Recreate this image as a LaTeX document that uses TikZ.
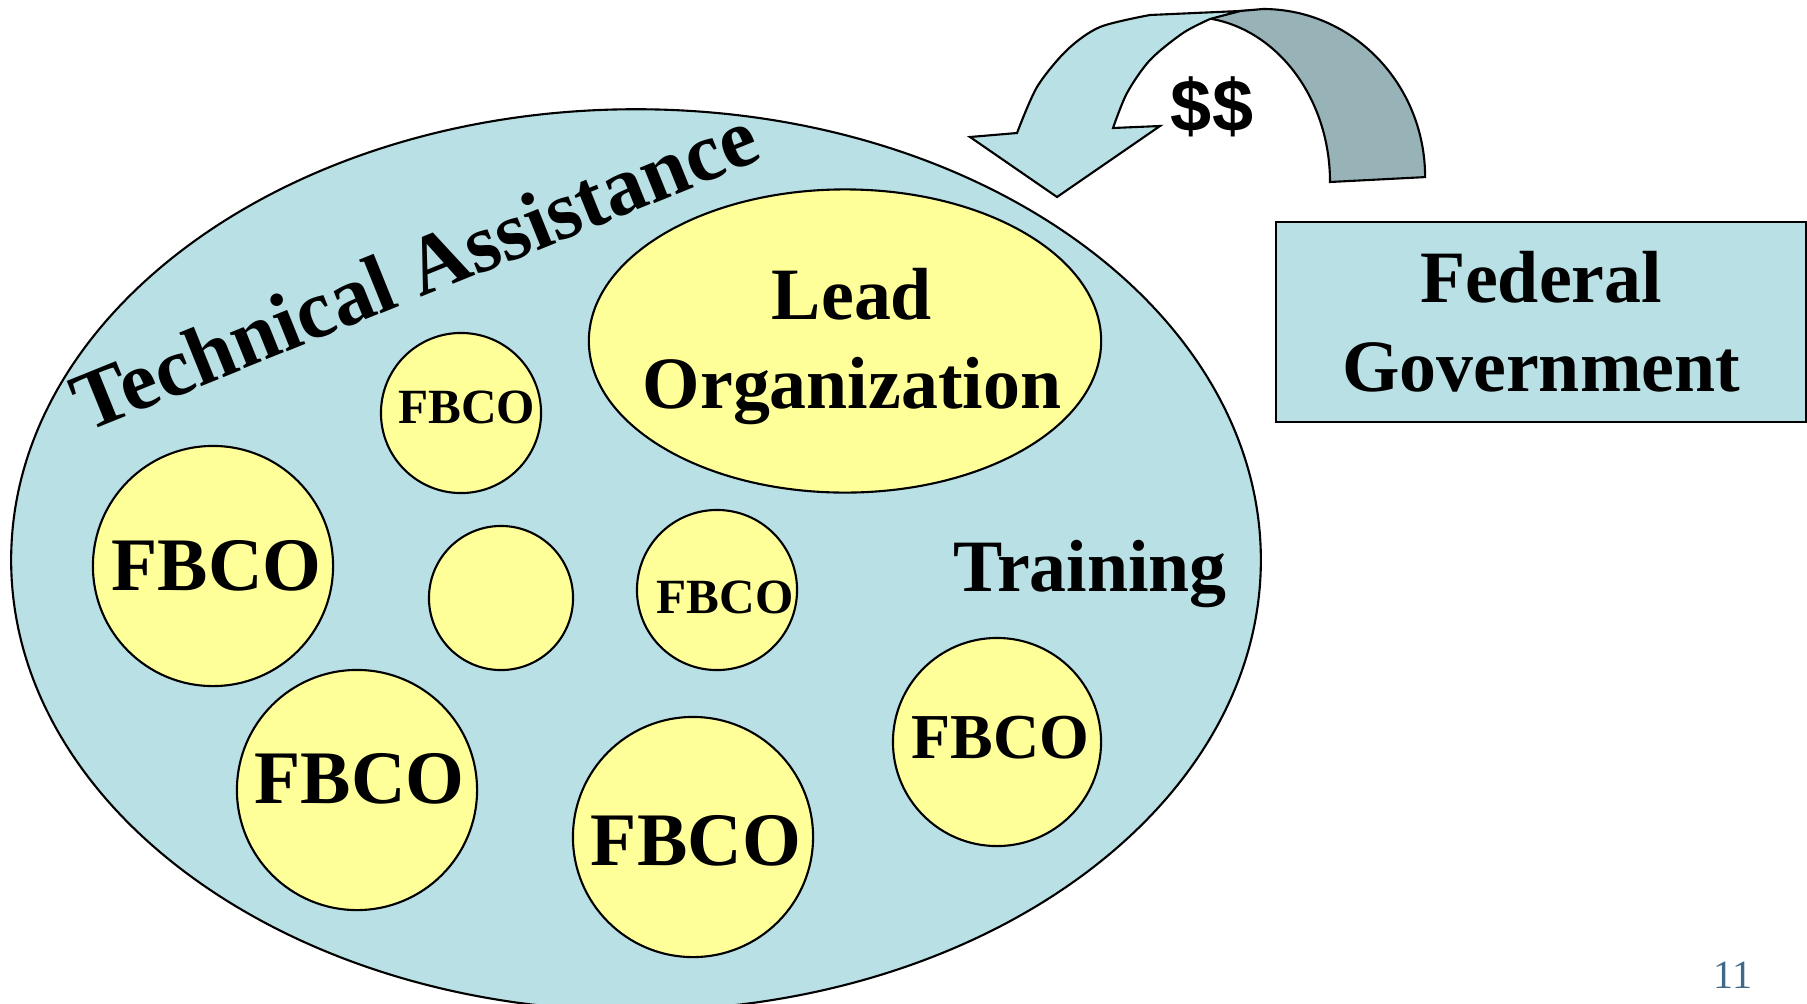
\documentclass[tikz,border=0pt]{standalone}
\usepackage{fontspec}
\setmainfont{Liberation Serif}
\newfontfamily\dollarfont{Liberation Sans}
\usetikzlibrary{shapes.geometric}

\definecolor{tablue}{RGB}{185,224,228}
\definecolor{orgyellow}{RGB}{255,255,153}
\definecolor{backarrow}{RGB}{151,179,184}
\definecolor{pagenum}{RGB}{64,104,136}

\begin{document}
\begin{tikzpicture}
  [x=0.01cm,y=-0.01cm
  ,outline/.style={draw=black,line width=0.6pt}
  ,ta/.style={outline,fill=tablue}
  ,org/.style={outline,fill=orgyellow}
  ,big/.style={font=\bfseries\fontsize{21}{25.3}\selectfont}
  ]

  % FBCO circle
  %
  % #1 - name
  % #2 - centre
  % #3 - diameter (cm)
  % #4 - font size (pt)
  % #5 - text
  % #6 - text shift
  \newcommand{\fbco}[6]{
    \node[org,circle,inner sep=0pt,minimum size=#3cm] (#1) at #2 {};
    \node[font=\bfseries\fontsize{#4}{#4}\selectfont,#6] (#1text) at (#1.center) {#5};
  }

  \useasboundingbox (0,0) rectangle (1807,1003);

  % technical assistance area
  \node[ta,ellipse,minimum width=12.49cm,minimum height=9.01cm] (area) at (636,560) {};

  % lead organization
  \node[org,ellipse,minimum width=5.12cm,minimum height=3.03cm] (lead) at (845,341) {};
  \node[big,align=center] (leadtext) at (852,347) {Lead\\Organization};

  % small ones
  \fbco{fbcoa}{(461,413)}{1.6}{14}{FBCO}{xshift=1.6pt,yshift=1.6pt}
  \fbco{fbcoc}{(501,598)}{1.44}{14}{}{}
  \fbco{fbcod}{(717,590)}{1.6}{14}{FBCO}{xshift=2.3pt,yshift=-2pt}

  % big ones
  \fbco{fbcob}{(213,566)}{2.4}{21.5}{FBCO}{xshift=1pt}
  \fbco{fbcoe}{(357,790)}{2.4}{21.5}{FBCO}{xshift=0.7pt,yshift=3.3pt}
  \fbco{fbcof}{(693,837)}{2.4}{21.5}{FBCO}{xshift=0.8pt,yshift=-1pt}
  \fbco{fbcog}{(997,742)}{2.08}{18.2}{FBCO}{xshift=1pt,yshift=1.3pt}

  % labels
  \node[big,anchor=base] (training) at (1090,591) {Training};
  \node[font=\bfseries\fontsize{23.7}{28}\selectfont,anchor=base,rotate=22]
    (talabel) at (425,296) {Technical Assistance};

  % federal government
  \node[ta,rectangle,minimum width=5.3cm,minimum height=2cm,align=center,big]
    (fed) at (1541,322) {Federal\\Government};

  % money arrow, back part
  \path[outline,fill=backarrow] (1330,182)
    arc[start angle=0,end angle=82,x radius=1.4cm,y radius=1.65cm]
    -- (1240,11) -- (1263,9)
    arc[start angle=90,end angle=0,x radius=1.62cm,y radius=1.68cm]
    -- cycle;

  % money arrow, front part
  \path[outline,fill=tablue] (1057,197) -- (1160,126) -- (1113,128)
    -- plot[smooth] coordinates {(1113,128) (1127,93) (1150,60) (1183,33) (1210,19)}
    -- (1240,11) -- (1150,15)
    -- plot[smooth] coordinates {(1150,15) (1100,27) (1067,50) (1037,87) (1017,133)}
    -- (970,137) -- cycle;

  \node[font=\dollarfont\bfseries\fontsize{21}{25}\selectfont] (money) at (1212,107) {\$\$};

  % page number
  \node[font=\fontsize{11.4}{13}\selectfont,text=pagenum] (page) at (1733,975) {11};

\end{tikzpicture}
\end{document}
